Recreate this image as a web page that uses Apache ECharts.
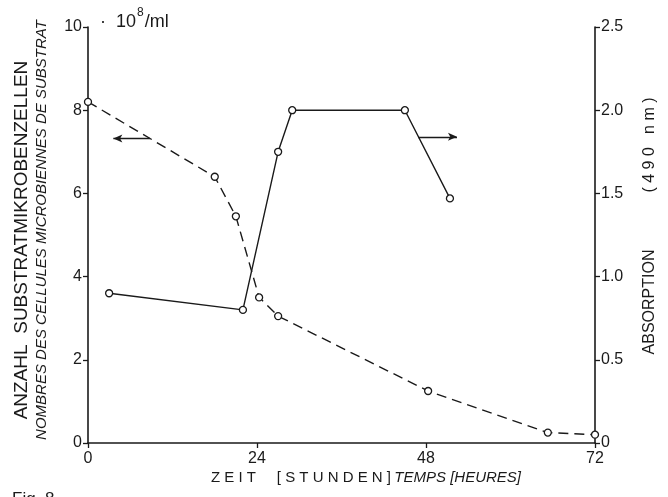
<!DOCTYPE html>
<html>
<head>
<meta charset="utf-8">
<script src="https://cdn.jsdelivr.net/npm/echarts@6/dist/echarts.min.js"></script>
<style>
  html, body { margin: 0; padding: 0; background: #fff; }
  #chart { width: 668px; height: 497px; }
</style>
</head>
<body>
<div id="chart"></div>
<script>
// Time axis (hours)
const hourTicks = [0, 24, 48, 72];

// Substrate microbial cells, 10^8/ml (dashed, left axis)
const cellHours  = [0, 18, 21, 24.3, 27, 48.3, 65.3, 72];
const cellCounts = [8.2, 6.4, 5.45, 3.5, 3.05, 1.25, 0.25, 0.2];

// Absorption at 490 nm (solid, right axis)
const absHours  = [3, 22, 27, 29, 45, 51.4];
const absValues = [0.9, 0.8, 1.75, 2.0, 2.0, 1.47];

// Pointer arrows showing which axis each curve belongs to
const cellArrow = [[8.8, 7.32], [3.6, 7.32]];
const absArrow  = [[46.9, 1.84], [52.4, 1.84]];

const FONT = '"Liberation Sans", "DejaVu Sans", sans-serif';
const INK = '#1a1a1a';

const chart = echarts.init(document.getElementById('chart'), null, { renderer: 'canvas' });

const axisCommon = {
  axisLine: { show: true, lineStyle: { color: INK, width: 1.6 } },
  axisTick: { show: true, inside: false, length: 5, lineStyle: { color: INK, width: 1.3 } },
  axisLabel: { color: INK, fontFamily: FONT, fontSize: 16, margin: 6 },
  splitLine: { show: false }
};

chart.setOption({
  animation: false,
  backgroundColor: '#ffffff',
  grid: { left: 88, right: 73, top: 27, bottom: 54, containLabel: false },
  xAxis: Object.assign({}, axisCommon, {
    type: 'value', min: hourTicks[0], max: hourTicks[hourTicks.length - 1], interval: 24,
    axisLabel: Object.assign({}, axisCommon.axisLabel, { margin: 8 })
  }),
  yAxis: [
    Object.assign({}, axisCommon, {
      type: 'value', min: 0, max: 10, interval: 2, position: 'left'
    }),
    Object.assign({}, axisCommon, {
      type: 'value', min: 0, max: 2.5, interval: 0.5, position: 'right',
      axisLabel: Object.assign({}, axisCommon.axisLabel, {
        formatter: v => (v === 0 ? '0' : v.toFixed(1))
      })
    })
  ],
  series: [
    {
      name: 'cells', type: 'line', yAxisIndex: 0,
      data: cellHours.map((h, i) => [h, cellCounts[i]]),
      symbol: 'circle', symbolSize: 7, showAllSymbol: true,
      lineStyle: { color: INK, width: 1.4, type: [10, 6] },
      itemStyle: { color: '#fff', borderColor: INK, borderWidth: 1.3 },
      z: 3,
      markLine: {
        silent: true, symbol: ['none', 'arrow'], symbolSize: [6, 9],
        label: { show: false },
        lineStyle: { color: INK, width: 1.4, type: 'solid' },
        data: [[{ coord: cellArrow[0] }, { coord: cellArrow[1] }]]
      }
    },
    {
      name: 'absorption', type: 'line', yAxisIndex: 1,
      data: absHours.map((h, i) => [h, absValues[i]]),
      symbol: 'circle', symbolSize: 7, showAllSymbol: true,
      lineStyle: { color: INK, width: 1.4 },
      itemStyle: { color: '#fff', borderColor: INK, borderWidth: 1.3 },
      z: 3,
      markLine: {
        silent: true, symbol: ['none', 'arrow'], symbolSize: [6, 9],
        label: { show: false },
        lineStyle: { color: INK, width: 1.4, type: 'solid' },
        data: [[{ coord: absArrow[0] }, { coord: absArrow[1] }]]
      }
    }
  ],
  graphic: [
    {
      type: 'text', left: 100, top: 7,
      style: {
        text: '{a|·  10}{s|8}{a|/ml}',
        fill: INK,
        rich: {
          a: { fontFamily: FONT, fontSize: 18, fill: INK, lineHeight: 24, verticalAlign: 'bottom' },
          s: { fontFamily: FONT, fontSize: 12, fill: INK, lineHeight: 24, verticalAlign: 'top', padding: [0, 1, 4, 1] }
        }
      }
    },
    {
      type: 'text', x: 22, y: 240, rotation: Math.PI / 2,
      style: {
        text: 'ANZAHL  SUBSTRATMIKROBENZELLEN',
        font: '19px ' + FONT, fill: INK, align: 'center', verticalAlign: 'middle'
      }
    },
    {
      type: 'text', x: 42, y: 230, rotation: Math.PI / 2,
      style: {
        text: 'NOMBRES DES CELLULES MICROBIENNES DE SUBSTRAT',
        font: 'italic 15px ' + FONT, fill: INK, align: 'center', verticalAlign: 'middle'
      }
    },
    {
      type: 'text', x: 650, y: 302, rotation: Math.PI / 2,
      style: {
        text: 'ABSORPTION',
        font: '16px ' + FONT, fill: INK, align: 'center', verticalAlign: 'middle'
      }
    },
    {
      type: 'text', x: 650, y: 145, rotation: Math.PI / 2,
      style: {
        text: '( 4 9 0   n m )',
        font: '16px ' + FONT, fill: INK, align: 'center', verticalAlign: 'middle'
      }
    },
    {
      type: 'text', x: 366, y: 478,
      style: {
        text: '{a|Z E I T     [ S T U N D E N ]} {b|TEMPS [HEURES]}',
        align: 'center', verticalAlign: 'middle',
        rich: {
          a: { fontFamily: FONT, fontSize: 15, fill: INK },
          b: { fontFamily: FONT, fontSize: 15, fontStyle: 'italic', fill: INK }
        }
      }
    },
    {
      type: 'text', left: 12, top: 491,
      style: { text: 'Fig. 8', font: '17px ' + FONT, fill: INK }
    }
  ]
});
</script>
</body>
</html>
